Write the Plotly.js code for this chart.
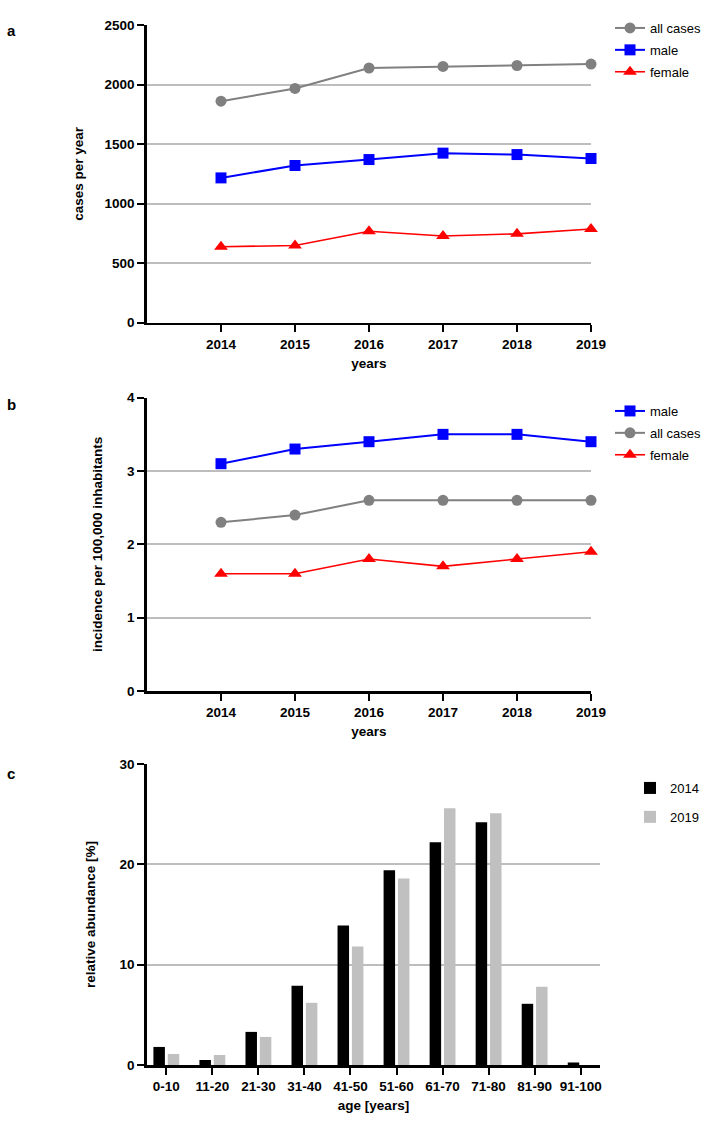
<!DOCTYPE html>
<html>
<head>
<meta charset="utf-8">
<script src="https://cdn.plot.ly/plotly-3.0.1.min.js"></script>
<style>body{margin:0;padding:0;background:#fff}#chart{width:714px;height:1127px}</style>
</head>
<body>
<div id="chart"></div>
<script>
const years = [2014, 2015, 2016, 2017, 2018, 2019];
const casesAll = [1860, 1967, 2139, 2152, 2160, 2172];
const casesMale = [1216, 1320, 1370, 1424, 1412, 1379];
const casesFemale = [638, 648, 768, 728, 746, 787];

const incMale = [3.1, 3.3, 3.4, 3.5, 3.5, 3.4];
const incAll = [2.3, 2.4, 2.6, 2.6, 2.6, 2.6];
const incFemale = [1.6, 1.6, 1.8, 1.7, 1.8, 1.9];

const ageGroups = ['0-10', '11-20', '21-30', '31-40', '41-50', '51-60', '61-70', '71-80', '81-90', '91-100'];
const abund2014 = [1.8, 0.5, 3.3, 7.9, 13.9, 19.4, 22.2, 24.2, 6.1, 0.25];
const abund2019 = [1.1, 1.0, 2.8, 6.2, 11.8, 18.6, 25.6, 25.1, 7.8, 0];

const W = 714, H = 1127;
const FONT = 'Arial, "Liberation Sans", Helvetica, sans-serif';
const GRAY = '#808080', BLUE = '#0000ff', RED = '#ff0000';

function line(x, y, name, color, symbol, size, xa, ya, leg, lw) {
  return {x: x, y: y, name: name, type: 'scatter', mode: 'lines+markers',
    xaxis: xa, yaxis: ya, legend: leg, legendgroup: name + leg, cliponaxis: false,
    line: {color: color, width: lw}, marker: {color: color, symbol: symbol, size: size}};
}

const traces = [
  line(years, casesAll, 'all cases', GRAY, 'circle', 11, 'x', 'y', 'legend', 2),
  line(years, casesMale, 'male', BLUE, 'square', 11, 'x', 'y', 'legend', 2),
  line(years, casesFemale, 'female', RED, 'triangle-up', 12, 'x', 'y', 'legend', 1.6),
  line(years, incMale, 'male', BLUE, 'square', 11, 'x2', 'y2', 'legend2', 2),
  line(years, incAll, 'all cases', GRAY, 'circle', 11, 'x2', 'y2', 'legend2', 2),
  line(years, incFemale, 'female', RED, 'triangle-up', 12, 'x2', 'y2', 'legend2', 1.6),
  {x: ageGroups, y: abund2014, name: '2014', type: 'bar', xaxis: 'x3', yaxis: 'y3',
    legend: 'legend3', legendgroup: 'b14', marker: {color: '#000000'}},
  {x: ageGroups, y: abund2019, name: '2019', type: 'bar', xaxis: 'x3', yaxis: 'y3',
    legend: 'legend3', legendgroup: 'b19', marker: {color: '#c0c0c0'}}
];

const px = v => v / W;
const py = v => 1 - v / H;

const tickFont = {family: FONT, size: 13.5, color: '#000', weight: 'bold'};
const titleFont = {family: FONT, size: 13.5, color: '#000', weight: 'bold'};
const legFont = {family: FONT, size: 13, color: '#000'};

function xAxis(domain, anchor, extra) {
  return Object.assign({domain: domain, anchor: anchor, showline: true, linecolor: '#000', linewidth: 2.7,
    ticks: 'outside', ticklen: 7, tickwidth: 2, tickcolor: '#000', showgrid: false, zeroline: false,
    tickfont: tickFont, fixedrange: true}, extra);
}
function yAxis(domain, anchor, extra) {
  return Object.assign({domain: domain, anchor: anchor, showline: true, linecolor: '#000', linewidth: 2.7,
    ticks: 'outside', ticklen: 7, tickwidth: 2, tickcolor: '#000', showgrid: true, gridcolor: '#bdbdbd',
    gridwidth: 2, zeroline: false, tickfont: tickFont, fixedrange: true}, extra);
}

const layout = {
  width: W, height: H, margin: {l: 0, r: 0, t: 0, b: 0}, paper_bgcolor: '#fff', plot_bgcolor: '#fff',
  font: {family: FONT, color: '#000'}, bargap: 0.376, bargroupgap: 0.2, barmode: 'group',
  xaxis: xAxis([px(147), px(591)], 'y', {range: [2013, 2019], tickvals: years,
    title: {text: 'years', font: titleFont, standoff: 8}}),
  yaxis: yAxis([py(322.7), py(25)], 'x', {range: [0, 2500], tickvals: [0, 500, 1000, 1500, 2000, 2500],
    title: {text: 'cases per year', font: titleFont, standoff: 18}}),
  xaxis2: xAxis([px(147), px(591)], 'y2', {range: [2013, 2019], tickvals: years,
    title: {text: 'years', font: titleFont, standoff: 8}}),
  yaxis2: yAxis([py(691), py(397.7)], 'x2', {range: [0, 4], tickvals: [0, 1, 2, 3, 4],
    title: {text: 'incidence per 100,000 inhabitants', font: titleFont, standoff: 22}}),
  xaxis3: xAxis([px(147), px(600)], 'y3', {range: [-0.42, 9.42], type: 'category',
    title: {text: 'age [years]', font: titleFont, standoff: 8}}),
  yaxis3: yAxis([py(1065), py(764)], 'x3', {range: [0, 30], tickvals: [0, 10, 20, 30],
    title: {text: 'relative abundance [%]', font: titleFont, standoff: 21}}),
  legend: {x: px(610), y: py(13), xanchor: 'left', yanchor: 'top', font: legFont, bgcolor: 'rgba(0,0,0,0)',
    traceorder: 'grouped', tracegroupgap: 2},
  legend2: {x: px(610), y: py(396), xanchor: 'left', yanchor: 'top', font: legFont, bgcolor: 'rgba(0,0,0,0)',
    traceorder: 'grouped', tracegroupgap: 2},
  legend3: {x: px(630), y: py(773), xanchor: 'left', yanchor: 'top', font: legFont, bgcolor: 'rgba(0,0,0,0)',
    traceorder: 'grouped', tracegroupgap: 9},
  annotations: [
    {text: 'a', x: px(5), y: py(30), xref: 'paper', yref: 'paper', xanchor: 'left', yanchor: 'middle', showarrow: false,
      font: {family: FONT, size: 15, weight: 'bold', color: '#000'}},
    {text: 'b', x: px(5), y: py(405), xref: 'paper', yref: 'paper', xanchor: 'left', yanchor: 'middle', showarrow: false,
      font: {family: FONT, size: 15, weight: 'bold', color: '#000'}},
    {text: 'c', x: px(5), y: py(773), xref: 'paper', yref: 'paper', xanchor: 'left', yanchor: 'middle', showarrow: false,
      font: {family: FONT, size: 15, weight: 'bold', color: '#000'}}
  ]
};

Plotly.newPlot('chart', traces, layout, {displayModeBar: false, staticPlot: true});
</script>
</body>
</html>
